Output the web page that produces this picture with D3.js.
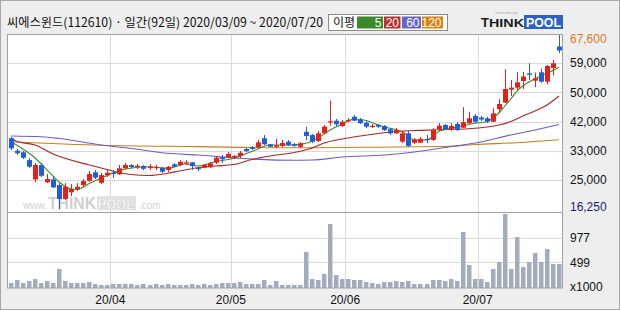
<!DOCTYPE html>
<html>
<head>
<meta charset="utf-8">
<script src="https://cdn.jsdelivr.net/npm/d3@7"></script>
<style>
  html, body { margin: 0; padding: 0; background: #eeeeee; }
  svg { display: block; }
  text { font-family: 'Liberation Sans', 'Noto Sans', sans-serif; }
</style>
</head>
<body>
<svg id="chart" width="620" height="310"></svg>
<script>
const width = 620
const height = 310

// daily candles, 2020/03/09 ~ 2020/07/20 (92 trading days)
const open = [37050, 33400, 32950, 30650, 25000, 29200, 24150, 25000, 23350, 19250,
  21200, 22100, 23350, 24600, 27050, 24000, 26200, 26950, 26500, 28250,
  29200, 28600, 28900, 28400, 28500, 28400, 27750, 29400, 29200, 29700,
  30000, 28350, 28400, 28550, 29900, 31450, 31450, 31350, 31850, 33900,
  34400, 34400, 37050, 35300, 34550, 34800, 36050, 35350, 34550, 38950,
  38000, 36250, 38500, 41750, 42200, 40650, 42250, 43350, 42600, 41600,
  40500, 40950, 40650, 39700, 38500, 36050, 38500, 35750, 35750, 36850,
  36550, 39700, 40950, 39700, 41250, 40150, 41450, 43600, 43150, 42900,
  41900, 45550, 47500, 51300, 51900, 53850, 56100, 53950, 56400, 53650,
  57650, 63950]
const high = [37400, 33900, 33300, 31250, 29800, 29800, 26550, 26000, 23900, 23900,
  23650, 23900, 25100, 27450, 27750, 26850, 27750, 27750, 29200, 29800,
  29500, 29500, 29200, 29500, 29200, 28600, 28900, 29800, 30650, 30650,
  30100, 28600, 29500, 30100, 31850, 32150, 33000, 32150, 33300, 34200,
  34800, 36550, 38000, 35350, 36850, 36550, 36550, 35650, 35950, 40450,
  38300, 39200, 40950, 48050, 42700, 42400, 43000, 43850, 43000, 42100,
  41250, 41250, 40950, 40050, 40050, 39200, 39200, 37050, 37400, 38000,
  40050, 41500, 41250, 41500, 41800, 46150, 44850, 44150, 43600, 43300,
  45850, 48550, 57300, 54150, 56400, 56500, 59050, 56300, 57550, 58550,
  60000, 67600]
const low = [33600, 32150, 30950, 28350, 24200, 25700, 23900, 22450, 16250, 18950,
  20100, 21600, 22750, 24200, 25100, 23650, 25700, 25400, 26250, 28050,
  28350, 28050, 27750, 27750, 27750, 26850, 27150, 28600, 28900, 29200,
  27750, 27450, 28350, 28350, 29500, 29800, 31250, 30950, 31250, 33000,
  33600, 34200, 35000, 34500, 34200, 34500, 34800, 34500, 34200, 36550,
  35650, 35950, 38300, 40750, 40450, 40350, 41800, 42100, 41250, 40050,
  40050, 40050, 39200, 38000, 38300, 35650, 34500, 35350, 35650, 35650,
  36250, 39200, 39450, 39200, 39200, 40050, 41250, 41500, 42100, 41500,
  41800, 44550, 47400, 49450, 51200, 51500, 54150, 52000, 53350, 52900,
  55500, 62050]
const close = [34100, 32650, 31350, 28700, 29200, 26050, 25100, 22650, 19250, 22850,
  22150, 22850, 24500, 26550, 25500, 26250, 26950, 26550, 28250, 29200,
  28600, 29000, 28100, 28700, 28650, 27250, 28700, 28700, 30150, 30000,
  28900, 28100, 29200, 29700, 31350, 30900, 32450, 31850, 32800, 33300,
  33900, 35850, 35300, 34550, 35000, 35650, 35000, 34850, 35550, 37700,
  36050, 38500, 40450, 42050, 41150, 41900, 42400, 42200, 41450, 40450,
  40700, 40450, 39450, 38500, 39450, 38500, 34800, 36750, 36900, 36700,
  39450, 40750, 39700, 40650, 39450, 41750, 42900, 41900, 42550, 41900,
  44350, 47100, 51500, 51900, 53450, 55150, 55700, 54650, 53650, 58250,
  59050, 62800]
// volume, x1000 shares
const volume = [91, 155, 103, 142, 175, 103, 136, 97, 369, 142,
  103, 103, 103, 116, 78, 58, 58, 78, 78, 78,
  78, 65, 78, 65, 78, 65, 78, 65, 65, 65,
  78, 65, 78, 65, 78, 97, 97, 91, 116, 78,
  78, 78, 161, 65, 136, 58, 58, 58, 58, 704,
  175, 155, 272, 1242, 252, 168, 168, 155, 155, 116,
  97, 78, 116, 116, 136, 116, 142, 78, 78, 78,
  155, 155, 142, 175, 142, 1086, 446, 175, 175, 116,
  369, 504, 1436, 369, 989, 414, 504, 685, 504, 757,
  466, 466]

// moving averages: [day, price]
const ma5 = [[0, 36040], [4, 31260], [6, 27740], [8, 24220], [10, 22170], [11, 22080],
  [13, 23780], [15, 25390], [17, 26860], [19, 28030], [23, 28710], [26, 28240],
  [29, 29500], [31, 28910], [34, 30230], [37, 31170], [40, 33170], [43, 35070],
  [46, 35070], [49, 35570], [51, 37130], [53, 39470], [55, 41230], [57, 42700],
  [59, 42260], [61, 40940], [63, 39970], [65, 38970], [67, 36540], [69, 36540],
  [71, 39030], [73, 39970], [75, 40650], [77, 41440], [79, 41970], [81, 44460],
  [82, 46510], [83, 48560], [84, 50910], [85, 52380], [86, 53550], [88, 55310],
  [89, 56100], [91, 57900]]
const ma20 = [[0, 37130], [1, 36100], [4, 35070], [7, 32430], [13, 29210], [16, 27890],
  [18, 26950], [20, 26420], [23, 26130], [26, 26770], [28, 27450], [31, 28420],
  [34, 28910], [37, 29350], [40, 30820], [43, 31850], [47, 32870], [50, 34190],
  [52, 35660], [55, 36830], [58, 37720], [61, 38450], [64, 39030], [68, 39380],
  [72, 39620], [76, 39850], [79, 40350], [81, 40940], [83, 41970], [85, 43580],
  [87, 45050], [89, 46800], [91, 49440]]
const ma60 = [[0, 37710], [5, 37480], [8, 36980], [15, 35070], [20, 34050], [26, 32640],
  [31, 32140], [38, 31170], [47, 30590], [50, 30670], [55, 31550], [62, 32140],
  [67, 33020], [73, 34570], [78, 35950], [83, 38010], [87, 39470], [91, 41090]]
const ma120 = [[0, 36040], [15, 34990], [31, 34600], [48, 34250], [58, 34400],
  [72, 34630], [77, 35220], [84, 35750], [91, 36600]]

const priceMin = 16250
const priceMax = 67600
const priceTickLabels = ['67,600', '59,000', '50,000', '42,000', '33,000', '25,000', '16,250']
const volMax = 1470
const volTicks = [499, 977]
const monthLabels = ['20/04', '20/05', '20/06', '20/07']
const monthStartDay = [17, 37, 56, 78]

const title = '씨에스윈드(112610) · 일간(92일) 2020/03/09 ~ 2020/07/20'
const maNames = ['5', '20', '60', '120']
const maColors = ['#3b8a2a', '#b8302b', '#6565c9', '#d9820f']
const lineColors = ['#3d8a2c', '#9e2a26', '#6a5fc2', '#c47f22']

const UP = '#e3201c'
const DOWN = '#1f5ed6'

const plot = { left: 7.5, right: 562.5, top: 34.5, split: 212.5, bottom: 288 }

const svg = d3.select('svg#chart')

svg.append('rect')
  .attr('x', 0.5).attr('y', 0.5)
  .attr('width', width - 1).attr('height', height - 1)
  .attr('fill', '#eeeeee')
  .attr('stroke', '#a9a9a9')

svg.append('rect')
  .attr('x', plot.left).attr('y', plot.top)
  .attr('width', plot.right - plot.left).attr('height', plot.bottom - plot.top)
  .attr('fill', '#ffffff')

const x = d3.scaleBand()
  .domain(d3.range(close.length))
  .range([8, 562])

const y = d3.scaleLinear()
  .domain([priceMin, priceMax])
  .range([209.2, 34.1])

const yv = d3.scaleLinear()
  .domain([0, volMax])
  .range([plot.bottom, plot.split])

const cx = i => Math.round(x(i) + x.bandwidth() / 2) + 0.5

// grid
const grid = svg.append('g')
  .attr('stroke', '#d9d9d9')
  .attr('stroke-width', 1)

const priceTicks = d3.range(priceTickLabels.length)
  .map(k => priceMax - k * (priceMax - priceMin) / (priceTickLabels.length - 1))

grid.selectAll('.hp')
  .data(priceTicks.slice(1, -1))
  .join('line')
  .attr('x1', plot.left).attr('x2', plot.right)
  .attr('y1', d => Math.round(y(d)) + 0.5)
  .attr('y2', d => Math.round(y(d)) + 0.5)

grid.selectAll('.hv')
  .data(volTicks)
  .join('line')
  .attr('x1', plot.left).attr('x2', plot.right)
  .attr('y1', d => Math.round(yv(d)) + 0.5)
  .attr('y2', d => Math.round(yv(d)) + 0.5)

grid.selectAll('.vm')
  .data(monthStartDay)
  .join('line')
  .attr('x1', d => Math.round(x(d)) + 0.5)
  .attr('x2', d => Math.round(x(d)) + 0.5)
  .attr('y1', plot.top).attr('y2', plot.bottom)

// watermark
const wm = svg.append('g').attr('fill', '#cfcfcf').style('font-weight', 'bold')
wm.append('text').attr('x', 23).attr('y', 209).style('font-size', '10px')
  .style('font-weight', 'normal').text('www.')
wm.append('text').attr('x', 48).attr('y', 209).style('font-size', '17px')
  .attr('textLength', 48).attr('lengthAdjust', 'spacingAndGlyphs').text('THINK')
wm.append('rect').attr('x', 97).attr('y', 196).attr('width', 39).attr('height', 14)
  .attr('fill', '#e2e2e2')
wm.append('text').attr('x', 98).attr('y', 209).style('font-size', '15px')
  .attr('fill', '#ffffff').attr('stroke', '#cfcfcf').attr('stroke-width', 0.6)
  .attr('textLength', 36).attr('lengthAdjust', 'spacingAndGlyphs').text('POOL')
wm.append('text').attr('x', 139).attr('y', 209).style('font-size', '10px')
  .style('font-weight', 'normal').text('.com')

// volume
svg.append('g')
  .attr('fill', '#a3abbe')
  .selectAll('rect')
  .data(volume)
  .join('rect')
  .attr('x', (d, i) => cx(i) - 2.5)
  .attr('width', 4.5)
  .attr('y', d => Math.round(yv(d)))
  .attr('height', d => plot.bottom - Math.round(yv(d)))

// moving averages
const maLine = d3.line()
  .x(d => x(d[0]) + x.bandwidth() / 2)
  .y(d => y(d[1]))
  .curve(d3.curveMonotoneX)

const maSeries = [ma120, ma60, ma20, ma5]
const maSeriesColors = [lineColors[3], lineColors[2], lineColors[1], lineColors[0]]
svg.append('g')
  .attr('fill', 'none')
  .attr('stroke-width', 1.1)
  .selectAll('path')
  .data(maSeries)
  .join('path')
  .attr('stroke', (d, i) => maSeriesColors[i])
  .attr('d', maLine)

// candles
const candles = svg.append('g')
  .selectAll('g')
  .data(close.map((c, i) => ({ i, o: open[i], h: high[i], l: low[i], c })))
  .join('g')
  .attr('fill', d => d.c >= d.o ? UP : DOWN)
  .attr('stroke', d => d.c >= d.o ? UP : DOWN)

candles.append('line')
  .attr('x1', d => cx(d.i)).attr('x2', d => cx(d.i))
  .attr('y1', d => y(d.h)).attr('y2', d => y(d.l))
  .attr('stroke-width', 1)

candles.append('rect')
  .attr('stroke', 'none')
  .attr('x', d => cx(d.i) - 2.5)
  .attr('width', 5)
  .attr('y', d => y(Math.max(d.o, d.c)))
  .attr('height', d => Math.max(1.2, Math.abs(y(d.o) - y(d.c))))

// frame
svg.append('rect')
  .attr('x', plot.left).attr('y', plot.top)
  .attr('width', plot.right - plot.left).attr('height', plot.bottom - plot.top)
  .attr('fill', 'none')
  .attr('stroke', '#a0a0a0')
svg.append('line')
  .attr('x1', plot.left).attr('x2', plot.right)
  .attr('y1', plot.split).attr('y2', plot.split)
  .attr('stroke', '#a0a0a0')

// right axis labels
const labelColors = ['#e07a1f', '#111', '#111', '#111', '#111', '#111', '#1d1d7a']
svg.append('g')
  .style('font-size', '12px')
  .selectAll('text')
  .data(priceTicks)
  .join('text')
  .attr('x', 570)
  .attr('y', (d, k) => y(d) + (k === 0 ? 4.3 : k === priceTicks.length - 1 ? -2.5 : 0))
  .attr('dy', '0.35em')
  .attr('fill', (d, k) => labelColors[k])
  .attr('textLength', (d, k) => priceTickLabels[k].length * 6.1)
  .text((d, k) => priceTickLabels[k])

svg.append('g')
  .style('font-size', '12px')
  .attr('fill', '#111')
  .selectAll('text')
  .data(volTicks)
  .join('text')
  .attr('x', 570)
  .attr('y', d => yv(d))
  .attr('dy', '0.35em')
  .text(d => d)

svg.append('text')
  .attr('x', 570).attr('y', 287)
  .attr('dy', '0.35em')
  .attr('fill', '#111')
  .style('font-size', '12px')
  .text('x1000')

// month labels
svg.append('g')
  .style('font-size', '12px')
  .attr('fill', '#111')
  .attr('text-anchor', 'middle')
  .selectAll('text')
  .data(monthStartDay)
  .join('text')
  .attr('x', d => x(d))
  .attr('y', 300)
  .attr('dy', '0.35em')
  .text((d, i) => monthLabels[i])

// title
svg.append('text')
  .attr('x', 7).attr('y', 22)
  .attr('dy', '0.36em')
  .attr('fill', '#111')
  .attr('textLength', 316)
  .attr('lengthAdjust', 'spacingAndGlyphs')
  .style('font-family', "'Noto Sans CJK KR', sans-serif")
  .style('font-size', '12.5px')
  .text(title)

// legend
const legend = svg.append('g')
legend.append('rect')
  .attr('x', 328.5).attr('y', 14.5).attr('width', 119).attr('height', 16)
  .attr('fill', '#ffffff').attr('stroke', '#8c8c8c')
legend.append('text')
  .attr('x', 333).attr('y', 22.5).attr('dy', '0.36em')
  .attr('fill', '#111')
  .style('font-family', "'Noto Sans CJK KR', sans-serif")
  .style('font-size', '12px')
  .text('이평')
const boxX = [357, 384, 402, 422]
const boxW = [26, 16.5, 19, 21]
maNames.forEach((name, i) => {
  legend.append('rect')
    .attr('x', boxX[i]).attr('y', 16.5).attr('width', boxW[i]).attr('height', 12)
    .attr('fill', maColors[i])
  legend.append('text')
    .attr('x', boxX[i] + boxW[i] - 1.5).attr('y', 22.5).attr('dy', '0.36em')
    .attr('text-anchor', 'end')
    .attr('fill', '#ffffff')
    .style('font-size', '12px')
    .text(name)
})

// logo
const logo = svg.append('g').style('font-weight', 'bold')
logo.append('text').attr('x', 481).attr('y', 27).attr('fill', '#1a1a1a')
  .style('font-size', '13px').text('T')
logo.append('text').attr('x', 489).attr('y', 27).attr('fill', '#1a1a1a')
  .style('font-size', '10.5px').attr('textLength', 35)
  .attr('lengthAdjust', 'spacingAndGlyphs').text('HINK')
logo.append('rect').attr('x', 524).attr('y', 15).attr('width', 39).attr('height', 14)
  .attr('fill', '#2c62c3')
logo.append('text').attr('x', 526).attr('y', 27).attr('fill', '#ffffff')
  .style('font-size', '13px').attr('textLength', 35)
  .attr('lengthAdjust', 'spacingAndGlyphs').text('POOL')
logo.append('text').attr('x', 495).attr('y', 14).attr('fill', '#aaaaaa')
  .style('font-size', '4px').style('font-weight', 'normal').text('smart design')
</script>
</body>
</html>
